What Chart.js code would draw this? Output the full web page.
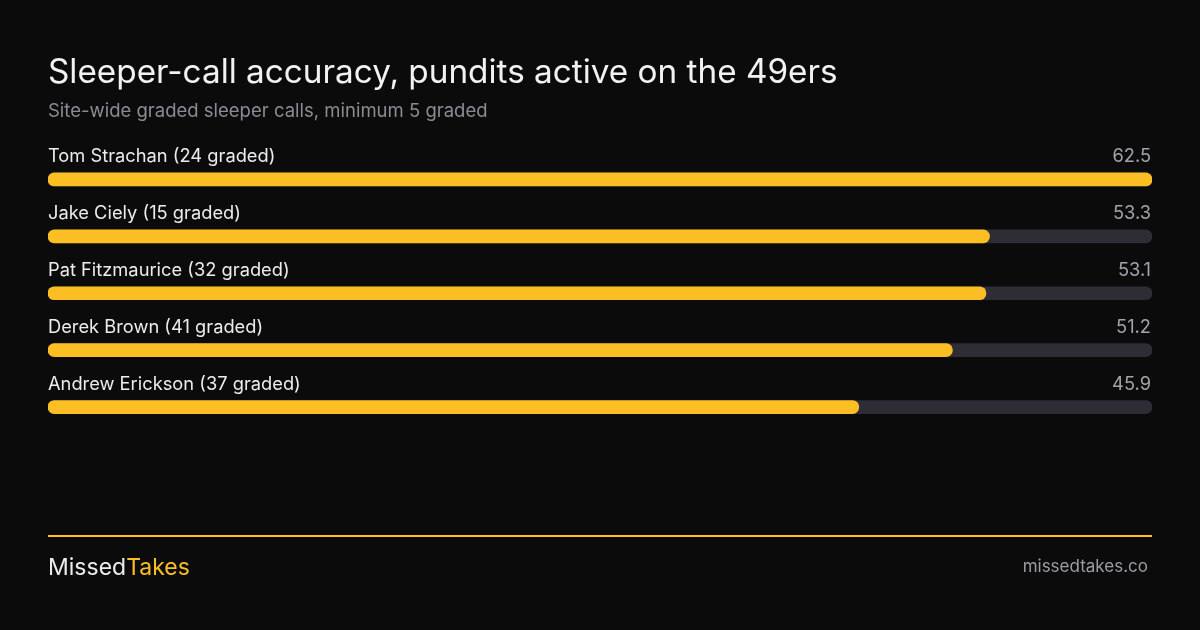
<!DOCTYPE html>
<html>
<head>
<meta charset="utf-8">
<script src="https://cdn.jsdelivr.net/npm/chart.js@4"></script>
<style>
html,body{margin:0;padding:0;background:#0b0b0b;width:1200px;height:630px;overflow:hidden;font-family:Inter,"Noto Sans",sans-serif;}
#wrap{position:relative;width:1200px;height:630px;}
canvas{position:absolute;left:0;top:0;}
.t{position:absolute;white-space:nowrap;}
#title{left:48px;top:51px;font-size:33.3px;color:#f2f2f2;font-weight:400;}
#sub{left:48px;top:99px;font-size:18.5px;color:#8b8b94;}
#rule{position:absolute;left:48px;top:535px;width:1104px;height:2px;background:#fbbf24;}
#brand{left:48px;top:553px;font-size:23px;color:#ececec;}
#brand span{color:#fbbf24;}
#site{right:52px;top:556px;font-size:17px;color:#9d9da6;}
</style>
</head>
<body>
<div id="wrap">
<canvas id="c" width="1200" height="630"></canvas>
<div class="t" id="title">Sleeper-call accuracy, pundits active on the 49ers</div>
<div class="t" id="sub">Site-wide graded sleeper calls, minimum 5 graded</div>
<div id="rule"></div>
<div class="t" id="brand">Missed<span>Takes</span></div>
<div class="t" id="site">missedtakes.co</div>
</div>
<script>
const pundits = ["Tom Strachan", "Jake Ciely", "Pat Fitzmaurice", "Derek Brown", "Andrew Erickson"];
const graded = [24, 15, 32, 41, 37];
const accuracy = [62.5, 53.3, 53.1, 51.2, 45.9];
const valueLabels = ["62.5", "53.3", "53.1", "51.2", "45.9"];

const scaleMax = Math.max(...accuracy);
const labels = pundits.map((p, i) => p + " (" + graded[i] + " graded)");

const labelPlugin = {
  id: 'rowLabels',
  afterDatasetsDraw(chart) {
    const ctx = chart.ctx;
    const meta = chart.getDatasetMeta(1);
    const area = chart.chartArea;
    ctx.save();
    ctx.font = '400 18.3px Inter, "Noto Sans", sans-serif';
    ctx.textBaseline = 'alphabetic';
    meta.data.forEach((el, i) => {
      const y = el.y - 17.5;
      ctx.fillStyle = '#ececec';
      ctx.textAlign = 'left';
      ctx.fillText(labels[i], area.left, y);
      ctx.fillStyle = '#a3a3ab';
      ctx.textAlign = 'right';
      ctx.fillText(valueLabels[i], area.right - 1, y);
    });
    ctx.restore();
  }
};

new Chart(document.getElementById('c'), {
  type: 'bar',
  data: {
    labels: labels,
    datasets: [
      {
        data: accuracy.map(() => scaleMax),
        backgroundColor: '#2e2c35',
        borderRadius: 7,
        borderSkipped: false,
        barThickness: 13,
        grouped: false,
        order: 2
      },
      {
        data: accuracy,
        backgroundColor: '#fbbf24',
        borderRadius: 7,
        borderSkipped: false,
        barThickness: 13,
        grouped: false,
        order: 1
      }
    ]
  },
  options: {
    indexAxis: 'y',
    responsive: false,
    animation: false,
    devicePixelRatio: 1,
    layout: { padding: { left: 48, right: 48, top: 151, bottom: 194.5 } },
    scales: {
      x: { display: false, min: 0, max: scaleMax },
      y: { display: false }
    },
    plugins: { legend: { display: false }, tooltip: { enabled: false } }
  },
  plugins: [labelPlugin]
});
</script>
</body>
</html>
